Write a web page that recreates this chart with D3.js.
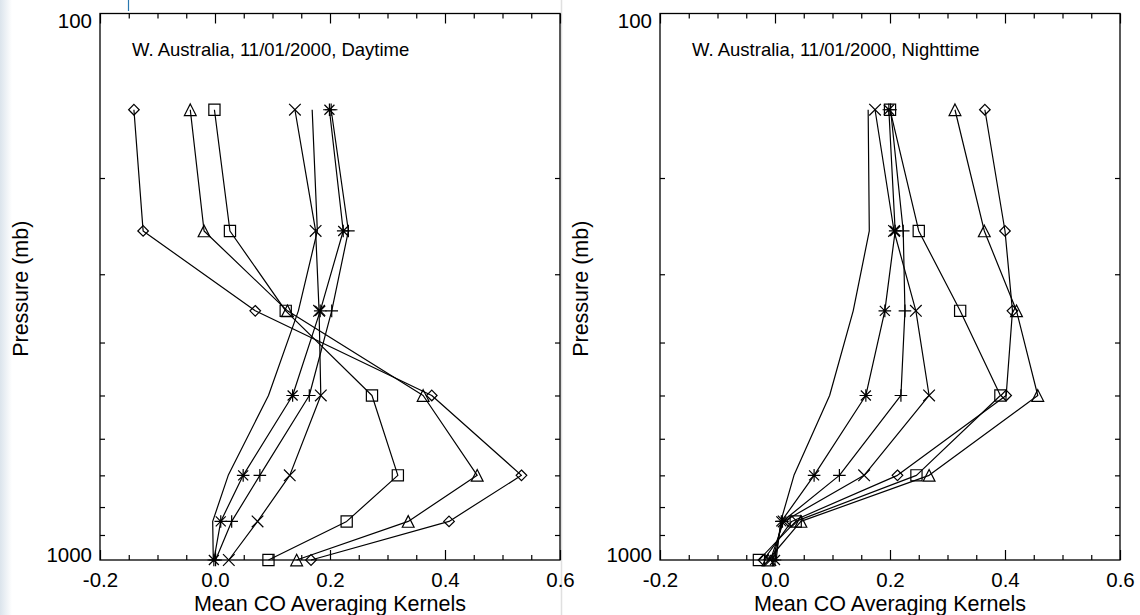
<!DOCTYPE html>
<html>
<head>
<meta charset="utf-8">
<script src="https://cdn.jsdelivr.net/npm/d3@7"></script>
<style>
  html, body { margin: 0; padding: 0; background: #fff; }
  svg { display: block; }
  text { font-family: "Liberation Sans", Arial, Helvetica, sans-serif; fill: #000; }
</style>
</head>
<body>
<svg id="chart" width="1140" height="615"></svg>
<script>
// ---------------- data ----------------
const pressureLevels = [150, 250, 350, 500, 700, 850, 1000];
const xMajorTicks = [-0.2, 0.0, 0.2, 0.4, 0.6];
const xMinorTicks = [-0.15, -0.1, -0.05, 0.05, 0.1, 0.15, 0.25, 0.3, 0.35, 0.45, 0.5, 0.55];
const yLabelTicks = [100, 1000];
const yMinorTicks = [200, 300, 400, 500, 600, 700, 800, 900];
const panelTitles = ["W. Australia, 11/01/2000, Daytime", "W. Australia, 11/01/2000, Nighttime"];
const xAxisTitle = "Mean CO Averaging Kernels";
const yAxisTitle = "Pressure (mb)";
const seriesSymbols = ["diamond", "triangle", "square", "cross", "none", "asterisk", "plus"];

// Daytime kernels (values at pressureLevels)
const dayDiamond  = [-0.141, -0.125, 0.070, 0.377, 0.533, 0.407, 0.167];
const dayTriangle = [-0.043, -0.019, 0.126, 0.362, 0.456, 0.336, 0.142];
const daySquare   = [-0.001, 0.026, 0.123, 0.273, 0.318, 0.229, 0.093];
const dayCross    = [0.139, 0.175, 0.181, 0.184, 0.130, 0.074, 0.024];
const dayPlain    = [0.169, 0.178, 0.145, 0.093, 0.023, -0.004, -0.003];
const dayAsterisk = [0.199, 0.223, 0.183, 0.135, 0.049, 0.010, -0.002];
const dayPlus     = [0.202, 0.232, 0.203, 0.164, 0.078, 0.029, 0.001];

// Nighttime kernels
const nightDiamond  = [0.365, 0.400, 0.413, 0.402, 0.213, 0.029, -0.020];
const nightTriangle = [0.313, 0.364, 0.420, 0.457, 0.268, 0.045, -0.012];
const nightSquare   = [0.200, 0.250, 0.322, 0.392, 0.246, 0.036, -0.028];
const nightCross    = [0.174, 0.207, 0.245, 0.268, 0.155, 0.015, -0.008];
const nightPlain    = [0.162, 0.164, 0.136, 0.095, 0.033, 0.010, 0.002];
const nightAsterisk = [0.198, 0.209, 0.191, 0.158, 0.068, 0.011, 0.000];
const nightPlus     = [0.201, 0.223, 0.226, 0.219, 0.112, 0.013, -0.004];

const panels = [
  { title: panelTitles[0], left: 100, series: [dayDiamond, dayTriangle, daySquare, dayCross, dayPlain, dayAsterisk, dayPlus] },
  { title: panelTitles[1], left: 660, series: [nightDiamond, nightTriangle, nightSquare, nightCross, nightPlain, nightAsterisk, nightPlus] }
];

// ---------------- layout ----------------
const svg = d3.select("#chart");
const plotW = 460, plotTop = 13.5, plotBottom = 560;
const tickFont = 20.5, titleFont = 18.5, axisTitleFont = 21.5;

// screenshot artefacts at the edges of the reference
const defs = svg.append("defs");
const grad = defs.append("linearGradient").attr("id", "edge").attr("x1", 0).attr("x2", 1);
grad.append("stop").attr("offset", 0).attr("stop-color", "#dbe4ec");
grad.append("stop").attr("offset", 1).attr("stop-color", "#ffffff");
svg.append("rect").attr("x", 0).attr("y", 0).attr("width", 12).attr("height", 615).attr("fill", "url(#edge)");
svg.append("line").attr("x1", 128.5).attr("x2", 128.5).attr("y1", 0).attr("y2", 11)
  .attr("stroke", "#2a78b0").attr("stroke-width", 1.2);
svg.append("line").attr("x1", 561.5).attr("x2", 561.5).attr("y1", 0).attr("y2", 615)
  .attr("stroke", "#e0e0e0").attr("stroke-width", 1.5);

function symbolPath(type) {
  switch (type) {
    case "diamond":  return "M0,-5.3L5.3,0L0,5.3L-5.3,0Z";
    case "triangle": return "M0,-5.8L5.9,5.8L-5.9,5.8Z";
    case "square":   return "M-5.6,-5.6H5.6V5.6H-5.6Z";
    case "cross":    return "M-5.8,-5.8L5.8,5.8M-5.8,5.8L5.8,-5.8";
    case "plus":     return "M-6.3,0H6.3M0,-6.3V6.3";
    case "asterisk": return "M-5,-5L5,5M-5,5L5,-5M-6.3,0H6.3M0,-6.3V6.3";
    default: return "";
  }
}

const fmtX = v => d3.format(".1f")(v).replace("\u2212", "-");

panels.forEach(panel => {
  const x = d3.scaleLinear().domain([-0.2, 0.6]).range([panel.left, panel.left + plotW]);
  const y = d3.scaleLog().domain([100, 1000]).range([plotTop, plotBottom]);
  const g = svg.append("g");

  // frame
  g.append("rect").attr("x", panel.left).attr("y", plotTop).attr("width", plotW).attr("height", plotBottom - plotTop)
    .attr("fill", "none").attr("stroke", "#000").attr("stroke-width", 1.3);

  // ticks via d3 axes (inward)
  const tickStyle = sel => {
    sel.select(".domain").remove();
    sel.selectAll(".tick line").attr("stroke", "#000").attr("stroke-width", 1.2);
    sel.selectAll(".tick text").remove();
  };
  g.append("g").attr("transform", `translate(0,${plotBottom})`)
    .call(d3.axisBottom(x).tickValues(xMajorTicks).tickSize(-10)).call(tickStyle);
  g.append("g").attr("transform", `translate(0,${plotBottom})`)
    .call(d3.axisBottom(x).tickValues(xMinorTicks).tickSize(-5)).call(tickStyle);
  g.append("g").attr("transform", `translate(0,${plotTop})`)
    .call(d3.axisTop(x).tickValues(xMajorTicks).tickSize(-10)).call(tickStyle);
  g.append("g").attr("transform", `translate(0,${plotTop})`)
    .call(d3.axisTop(x).tickValues(xMinorTicks).tickSize(-5)).call(tickStyle);
  g.append("g").attr("transform", `translate(${panel.left},0)`)
    .call(d3.axisLeft(y).tickValues(yMinorTicks).tickSize(-5)).call(tickStyle);
  g.append("g").attr("transform", `translate(${panel.left + plotW},0)`)
    .call(d3.axisRight(y).tickValues(yMinorTicks).tickSize(-5)).call(tickStyle);

  // tick labels
  const xl = g.append("g").attr("transform", `translate(0,${plotBottom})`)
    .call(d3.axisBottom(x).tickValues(xMajorTicks).tickSize(0).tickPadding(12.5).tickFormat(fmtX));
  xl.select(".domain").remove();
  xl.selectAll(".tick text").attr("font-size", tickFont).attr("font-family", null).attr("fill", "#000");

  const yl = g.append("g").attr("transform", `translate(${panel.left},0)`)
    .call(d3.axisLeft(y).tickValues(yLabelTicks).tickSize(0).tickPadding(8).tickFormat(d3.format("d")));
  yl.select(".domain").remove();
  yl.selectAll(".tick text").attr("font-size", tickFont).attr("font-family", null).attr("fill", "#000")
    .attr("dy", d => d === 100 ? "0.66em" : "0.05em");

  // panel title
  g.append("text").attr("x", panel.left + 32).attr("y", 56).attr("font-size", titleFont).text(panel.title);

  // axis titles
  g.append("text").attr("x", panel.left + plotW / 2).attr("y", 611).attr("text-anchor", "middle")
    .attr("font-size", axisTitleFont).text(xAxisTitle);
  g.append("text").attr("transform", `translate(${panel.left - 72},${(plotTop + plotBottom) / 2 + 2}) rotate(-90)`)
    .attr("text-anchor", "middle").attr("font-size", axisTitleFont).text(yAxisTitle);

  // series
  const line = d3.line().x(d => x(d.v)).y(d => y(d.p));
  panel.series.forEach((vals, i) => {
    const pts = vals.map((v, k) => ({ v, p: pressureLevels[k] }));
    g.append("path").datum(pts).attr("d", line)
      .attr("fill", "none").attr("stroke", "#000").attr("stroke-width", 1.2).attr("stroke-linejoin", "round");
    const sym = seriesSymbols[i];
    if (sym !== "none") {
      g.selectAll(null).data(pts).enter().append("path")
        .attr("transform", d => `translate(${x(d.v)},${y(d.p)})`)
        .attr("d", symbolPath(sym))
        .attr("fill", "none").attr("stroke", "#000").attr("stroke-width", 1.2);
    }
  });
});
</script>
</body>
</html>
